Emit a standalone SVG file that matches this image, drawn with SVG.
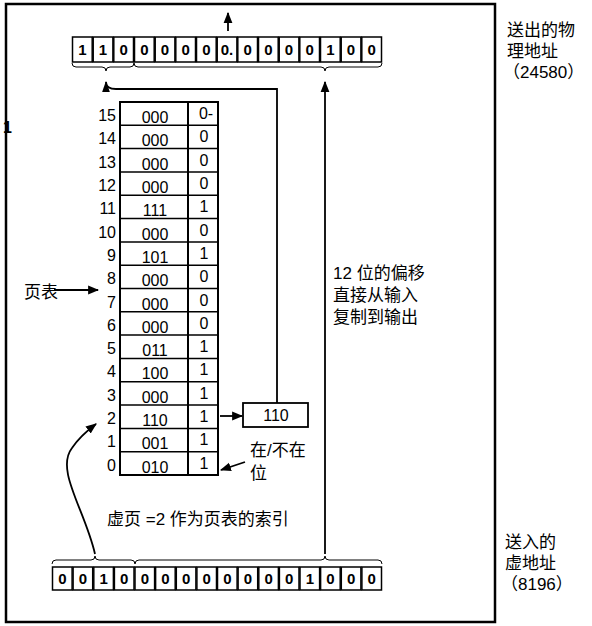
<svg xmlns="http://www.w3.org/2000/svg" width="592" height="626" viewBox="0 0 592 626">
<defs>
<marker id="ah" viewBox="0 0 10 10" refX="9" refY="5" markerWidth="11" markerHeight="11" markerUnits="userSpaceOnUse" orient="auto"><path d="M0,1 L10,5 L0,9 Z" fill="#000"/></marker>
<marker id="ahs" viewBox="0 0 10 10" refX="9" refY="5" markerWidth="11" markerHeight="11" markerUnits="userSpaceOnUse" orient="auto"><path d="M0,1.5 L10,5 L0,8.5 Z" fill="#000"/></marker>
</defs>
<style>
.cell{fill:#fff;stroke:#000;stroke-width:1.5}
.bit{font-family:"Liberation Sans",Arial,sans-serif;font-size:15px;font-weight:bold;text-anchor:middle}
.t{font-family:"Liberation Sans","Noto Sans CJK SC",sans-serif;font-size:16px}
.cn{font-family:"Liberation Sans","Noto Sans CJK SC",sans-serif;font-size:17px}
.ln{fill:none;stroke:#000;stroke-width:1.8}
.br{fill:none;stroke:#000;stroke-width:1}
</style>
<rect x="0" y="0" width="592" height="626" fill="#fff"/>
<rect id="frame" x="6" y="4" width="489" height="618" fill="none" stroke="#000" stroke-width="2.5"/>
<text x="3" y="133" class="t" font-size="12" font-weight="bold">1</text>

<g id="physical-address">
<rect class="cell" x="72.5" y="37" width="19.7" height="25"/>
<rect class="cell" x="93.2" y="37" width="19.7" height="25"/>
<rect class="cell" x="113.8" y="37" width="19.7" height="25"/>
<rect class="cell" x="134.5" y="37" width="19.7" height="25"/>
<rect class="cell" x="155.2" y="37" width="19.7" height="25"/>
<rect class="cell" x="175.8" y="37" width="19.7" height="25"/>
<rect class="cell" x="196.5" y="37" width="19.7" height="25"/>
<rect class="cell" x="217.2" y="37" width="19.7" height="25"/>
<rect class="cell" x="237.8" y="37" width="19.7" height="25"/>
<rect class="cell" x="258.5" y="37" width="19.7" height="25"/>
<rect class="cell" x="279.2" y="37" width="19.7" height="25"/>
<rect class="cell" x="299.8" y="37" width="19.7" height="25"/>
<rect class="cell" x="320.5" y="37" width="19.7" height="25"/>
<rect class="cell" x="341.2" y="37" width="19.7" height="25"/>
<rect class="cell" x="361.8" y="37" width="19.7" height="25"/>
<text class="bit" x="82.3" y="55">1</text>
<text class="bit" x="103" y="55">1</text>
<text class="bit" x="123.7" y="55">0</text>
<text class="bit" x="144.3" y="55">0</text>
<text class="bit" x="165" y="55">0</text>
<text class="bit" x="185.7" y="55">0</text>
<text class="bit" x="206.3" y="55">0</text>
<text class="bit" x="227" y="55">0.</text>
<text class="bit" x="247.7" y="55">0</text>
<text class="bit" x="268.3" y="55">0</text>
<text class="bit" x="289" y="55">0</text>
<text class="bit" x="309.7" y="55">0</text>
<text class="bit" x="330.3" y="55">1</text>
<text class="bit" x="351" y="55">0</text>
<text class="bit" x="371.7" y="55">0</text>
<path class="br" d="M72 63 Q72 67 76 67 L102 67 Q106 67 106 71 Q106 67 110 67 L130 67 Q134 67 134 63"/>
<path class="br" d="M134 63 Q134 67 138 67 L321 67 Q325 67 325 71 Q325 67 329 67 L378 67 Q382 67 382 63"/>
</g>

<g id="virtual-address">
<rect class="cell" x="52.5" y="567" width="19.6" height="23"/>
<rect class="cell" x="73.1" y="567" width="19.6" height="23"/>
<rect class="cell" x="93.8" y="567" width="19.6" height="23"/>
<rect class="cell" x="114.4" y="567" width="19.6" height="23"/>
<rect class="cell" x="135" y="567" width="19.6" height="23"/>
<rect class="cell" x="155.6" y="567" width="19.6" height="23"/>
<rect class="cell" x="176.3" y="567" width="19.6" height="23"/>
<rect class="cell" x="196.9" y="567" width="19.6" height="23"/>
<rect class="cell" x="217.5" y="567" width="19.6" height="23"/>
<rect class="cell" x="238.1" y="567" width="19.6" height="23"/>
<rect class="cell" x="258.8" y="567" width="19.6" height="23"/>
<rect class="cell" x="279.4" y="567" width="19.6" height="23"/>
<rect class="cell" x="300" y="567" width="19.6" height="23"/>
<rect class="cell" x="320.6" y="567" width="19.6" height="23"/>
<rect class="cell" x="341.3" y="567" width="19.6" height="23"/>
<rect class="cell" x="361.9" y="567" width="19.6" height="23"/>
<text class="bit" x="62.3" y="584">0</text>
<text class="bit" x="82.9" y="584">0</text>
<text class="bit" x="103.6" y="584">1</text>
<text class="bit" x="124.2" y="584">0</text>
<text class="bit" x="144.8" y="584">0</text>
<text class="bit" x="165.4" y="584">0</text>
<text class="bit" x="186.1" y="584">0</text>
<text class="bit" x="206.7" y="584">0</text>
<text class="bit" x="227.3" y="584">0</text>
<text class="bit" x="247.9" y="584">0</text>
<text class="bit" x="268.6" y="584">0</text>
<text class="bit" x="289.2" y="584">0</text>
<text class="bit" x="309.8" y="584">1</text>
<text class="bit" x="330.4" y="584">0</text>
<text class="bit" x="351.1" y="584">0</text>
<text class="bit" x="371.7" y="584">0</text>
<path class="br" d="M52 564 Q52 560 56 560 L91 560 Q95 560 95 556 Q95 560 99 560 L131 560 Q135 560 135 564"/>
<path class="br" d="M135 564 Q135 560 139 560 L321 560 Q325 560 325 556 Q325 560 329 560 L378 560 Q382 560 382 564"/>
</g>

<g id="page-table">
<rect x="120" y="102" width="98" height="373" fill="#fff" stroke="#000" stroke-width="2"/>
<line x1="188" y1="102" x2="188" y2="475" stroke="#000" stroke-width="2"/>
<g stroke="#000" stroke-width="1.5">
<line x1="120" y1="125.3" x2="218" y2="125.3"/>
<line x1="120" y1="148.6" x2="218" y2="148.6"/>
<line x1="120" y1="171.9" x2="218" y2="171.9"/>
<line x1="120" y1="195.3" x2="218" y2="195.3"/>
<line x1="120" y1="218.6" x2="218" y2="218.6"/>
<line x1="120" y1="241.9" x2="218" y2="241.9"/>
<line x1="120" y1="265.2" x2="218" y2="265.2"/>
<line x1="120" y1="288.5" x2="218" y2="288.5"/>
<line x1="120" y1="311.8" x2="218" y2="311.8"/>
<line x1="120" y1="335.1" x2="218" y2="335.1"/>
<line x1="120" y1="358.4" x2="218" y2="358.4"/>
<line x1="120" y1="381.8" x2="218" y2="381.8"/>
<line x1="120" y1="405.1" x2="218" y2="405.1"/>
<line x1="120" y1="428.4" x2="218" y2="428.4"/>
<line x1="120" y1="451.7" x2="218" y2="451.7"/>
</g>
<g class="t" text-anchor="end" font-size="15">
<text x="116" y="121">15</text>
<text x="116" y="144.3">14</text>
<text x="116" y="167.6">13</text>
<text x="116" y="190.9">12</text>
<text x="116" y="214.3">11</text>
<text x="116" y="237.6">10</text>
<text x="116" y="260.9">9</text>
<text x="116" y="284.2">8</text>
<text x="116" y="307.5">7</text>
<text x="116" y="330.8">6</text>
<text x="116" y="354.1">5</text>
<text x="116" y="377.4">4</text>
<text x="116" y="400.8">3</text>
<text x="116" y="424.1">2</text>
<text x="116" y="447.4">1</text>
<text x="116" y="470.7">0</text>
</g>
<g class="t" text-anchor="middle">
<text x="155" y="123">000</text>
<text x="155" y="146.3">000</text>
<text x="155" y="169.6">000</text>
<text x="155" y="192.9">000</text>
<text x="155" y="216.3">111</text>
<text x="155" y="239.6">000</text>
<text x="155" y="262.9">101</text>
<text x="155" y="286.2">000</text>
<text x="155" y="309.5">000</text>
<text x="155" y="332.8">000</text>
<text x="155" y="356.1">011</text>
<text x="155" y="379.4">100</text>
<text x="155" y="402.8">000</text>
<text x="155" y="426.1">110</text>
<text x="155" y="449.4">001</text>
<text x="155" y="472.7">010</text>
</g>
<g class="t" text-anchor="middle" font-size="15">
<text x="206" y="119">0-</text>
<text x="204" y="142.3">0</text>
<text x="204" y="165.6">0</text>
<text x="204" y="188.9">0</text>
<text x="204" y="212.3">1</text>
<text x="204" y="235.6">0</text>
<text x="204" y="258.9">1</text>
<text x="204" y="282.2">0</text>
<text x="204" y="305.5">0</text>
<text x="204" y="328.8">0</text>
<text x="204" y="352.1">1</text>
<text x="204" y="375.4">1</text>
<text x="204" y="398.8">1</text>
<text x="204" y="422.1">1</text>
<text x="204" y="445.4">1</text>
<text x="204" y="468.7">1</text>
</g>
</g>

<g id="page-frame-box">
<rect x="243" y="403" width="65" height="24" fill="#fff" stroke="#000" stroke-width="1.8"/>
<text class="t" x="276" y="421" text-anchor="middle" font-size="17">110</text>
</g>

<g id="label-pagetable"><text class="cn" x="24" y="298">页表</text></g>
<g id="label-present"><text class="cn" x="250" y="456" font-size="18">在/不在</text><text class="cn" x="250" y="479" font-size="18">位</text></g>
<g id="label-index"><text class="cn" x="107" y="525">虚页 =2 作为页表的索引</text></g>
<g id="label-offset">
<text class="cn" x="333" y="279">12 位的偏移</text>
<text class="cn" x="333" y="301">直接从输入</text>
<text class="cn" x="333" y="323">复制到输出</text>
</g>
<g id="label-out">
<text class="cn" x="507" y="36">送出的物</text>
<text class="cn" x="507" y="57">理地址</text>
<text class="cn" x="503" y="78">（24580）</text>
</g>
<g id="label-in">
<text class="cn" x="505" y="548">送入的</text>
<text class="cn" x="505" y="569">虚地址</text>
<text class="cn" x="501" y="590">（8196）</text>
</g>

<g id="connectors">
<line class="ln" x1="228" y1="31" x2="228" y2="13" marker-end="url(#ah)"/>
<path class="ln" d="M277 403 L277 89 L116 89 Q106 89 106 82" marker-end="url(#ahs)"/>
<line class="ln" x1="325" y1="554" x2="325" y2="82" marker-end="url(#ah)"/>
<line class="ln" x1="54" y1="290" x2="98" y2="290" marker-end="url(#ah)"/>
<line class="ln" x1="220" y1="416" x2="242" y2="416" marker-end="url(#ah)"/>
<line class="ln" x1="245" y1="462" x2="221" y2="470" marker-end="url(#ah)"/>
<path class="ln" d="M95 554 C85 510, 55 470, 72 448 Q80 436 96 424" marker-end="url(#ah)"/>
</g>
</svg>
